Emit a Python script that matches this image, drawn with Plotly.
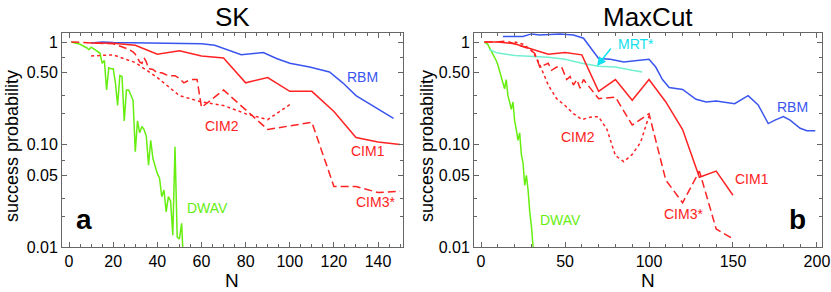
import plotly.graph_objects as go

# ---------------- SK panel (a) ----------------
sk_rbm_n = [10, 15, 20, 30, 40, 50, 60, 66, 73, 78, 88, 94, 100, 109, 118, 124, 130, 139, 147]
sk_rbm_p = [0.98, 1.0, 0.99, 0.98, 0.98, 0.97, 0.96, 0.93, 0.82, 0.75, 0.79, 0.69, 0.62, 0.57, 0.51, 0.40, 0.30, 0.23, 0.18]

sk_cim1_n = [10, 20, 30, 40, 50, 60, 70, 80, 90, 100, 110, 120, 130, 140, 150]
sk_cim1_p = [0.98, 0.97, 0.93, 0.76, 0.82, 0.73, 0.70, 0.40, 0.45, 0.33, 0.33, 0.21, 0.117, 0.106, 0.10]

sk_cim2_n = [10, 20, 30, 40, 50, 60, 70, 80, 90, 100]
sk_cim2_p = [0.73, 0.75, 0.63, 0.45, 0.30, 0.26, 0.24, 0.20, 0.175, 0.245]

sk_cim3_n = [1, 5, 10, 15, 20, 22, 25, 27, 29, 30, 31, 32, 33, 34, 35, 36, 38, 40, 42, 44, 46, 48,
             50, 52, 54, 56, 58, 60, 70, 90, 110, 120, 130, 140, 150]
sk_cim3_p = [1.0, 0.99, 0.98, 0.98, 0.96, 0.93, 0.88, 0.85, 0.80, 0.76, 0.70, 0.64, 0.62, 0.70, 0.64,
             0.55, 0.54, 0.50, 0.50, 0.48, 0.47, 0.47, 0.44, 0.40, 0.42, 0.43, 0.43, 0.23, 0.34,
             0.14, 0.165, 0.039, 0.039, 0.034, 0.035]

sk_dwav_n = [1, 3, 5, 7, 8, 9, 10, 11, 12, 13, 14, 15, 16, 17, 18, 19, 20, 21, 22, 23, 24, 25, 26,
             27, 28, 29, 30, 31, 32, 33, 34, 35, 36, 37, 38, 39, 40, 41, 42, 43, 44, 45, 46, 47,
             48, 49, 50, 51, 51.5]
sk_dwav_p = [1.0, 0.98, 0.95, 0.90, 0.88, 0.84, 0.89, 0.86, 0.83, 0.80, 0.78, 0.62, 0.66, 0.34,
             0.56, 0.55, 0.55, 0.40, 0.24, 0.47, 0.46, 0.17, 0.34, 0.34, 0.30, 0.27, 0.085, 0.17,
             0.13, 0.15, 0.14, 0.12, 0.063, 0.11, 0.073, 0.06, 0.052, 0.047, 0.031, 0.036,
             0.022, 0.031, 0.028, 0.013, 0.095, 0.0125, 0.012, 0.017, 0.01]

# ---------------- MaxCut panel (b) ----------------
mc_rbm_n = [13, 25, 30, 35, 47, 55, 61, 65, 70, 77, 85, 93, 100, 104, 108, 112, 120, 128, 134,
            140, 151, 159, 165, 171, 175, 180, 184, 190, 194, 199]
mc_rbm_p = [1.13, 1.13, 1.20, 1.17, 1.20, 1.17, 1.09, 0.90, 0.69, 0.68, 0.64, 0.66, 0.68, 0.57,
            0.43, 0.36, 0.345, 0.276, 0.26, 0.266, 0.25, 0.30, 0.243, 0.16, 0.173, 0.187,
            0.173, 0.144, 0.136, 0.136]

mc_mrt_n = [5, 10, 20, 30, 40, 50, 60, 70, 80, 90, 96]
mc_mrt_p = [0.84, 0.78, 0.74, 0.73, 0.71, 0.68, 0.62, 0.58, 0.57, 0.53, 0.51]

mc_cim1_n = [2, 10, 20, 30, 40, 50, 60, 70, 80, 90, 100, 110, 120, 130, 140, 150]
mc_cim1_p = [1.0, 1.0, 0.96, 0.85, 0.76, 0.79, 0.75, 0.33, 0.43, 0.27, 0.43, 0.26, 0.14, 0.048, 0.055, 0.032]

mc_cim2_n = [20, 25, 30, 33, 35, 37, 40, 45, 50, 55, 60, 65, 70, 75, 80, 85, 90, 95, 100]
mc_cim2_p = [1.0, 0.95, 0.83, 0.70, 0.60, 0.50, 0.38, 0.28, 0.24, 0.20, 0.175, 0.185, 0.187,
             0.14, 0.078, 0.068, 0.08, 0.105, 0.19]

mc_cim3_n = [2, 8, 15, 23, 28, 32, 35, 40, 42, 45, 48, 51, 53, 55, 57, 59, 61, 70, 80, 90, 100,
             110, 120, 130, 140, 150]
mc_cim3_p = [1.0, 1.0, 1.02, 0.93, 0.87, 0.775, 0.57, 0.62, 0.53, 0.57, 0.57, 0.43, 0.46, 0.38,
             0.43, 0.354, 0.43, 0.28, 0.29, 0.155, 0.20, 0.045, 0.027, 0.055, 0.015, 0.012]

mc_dwav_n = [2, 3, 4, 5, 6, 7, 8, 9, 10, 11, 12, 13, 14, 15, 16, 17, 18, 19, 20, 21, 22, 23, 24,
             25, 26, 27, 28, 29, 30, 31]
mc_dwav_p = [1.0, 0.98, 0.95, 0.88, 0.82, 0.76, 0.72, 0.66, 0.60, 0.53, 0.47, 0.40, 0.35, 0.43,
             0.30, 0.26, 0.22, 0.26, 0.17, 0.14, 0.11, 0.13, 0.08, 0.066, 0.040, 0.050, 0.036,
             0.022, 0.016, 0.010]

y_tickvals = [1, 0.5, 0.1, 0.05, 0.01]
y_ticktext = ["1", "0.50", "0.10", "0.05", "0.01"]
y_minor = [0.02, 0.03, 0.07, 0.2, 0.3, 0.7]
sk_xticks = [0, 20, 40, 60, 80, 100, 120, 140]
mc_xticks = [0, 50, 100, 150, 200]

RED = "#ff2222"
BLUE = "#3a55ee"
GREEN = "#66ee11"
AQUA = "#70f0d0"
CYAN = "#11e0ee"
FONT = "Liberation Sans, Arial, sans-serif"
DASH = "8px,4px"

fig = go.Figure()

def add(n, p, color, dash, xa, ya, width=1.5):
    fig.add_trace(go.Scatter(x=n, y=p, mode="lines", xaxis=xa, yaxis=ya,
                             line=dict(color=color, width=width, dash=dash),
                             showlegend=False, hoverinfo="skip"))

add(sk_dwav_n, sk_dwav_p, GREEN, "solid", "x", "y")
add(sk_rbm_n, sk_rbm_p, BLUE, "solid", "x", "y")
add(sk_cim2_n, sk_cim2_p, RED, "dot", "x", "y")
add(sk_cim3_n, sk_cim3_p, RED, DASH, "x", "y")
add(sk_cim1_n, sk_cim1_p, RED, "solid", "x", "y")

add(mc_dwav_n, mc_dwav_p, GREEN, "solid", "x2", "y2")
add(mc_mrt_n, mc_mrt_p, AQUA, "solid", "x2", "y2")
add(mc_rbm_n, mc_rbm_p, BLUE, "solid", "x2", "y2")
add(mc_cim2_n, mc_cim2_p, RED, "dot", "x2", "y2")
add(mc_cim3_n, mc_cim3_p, RED, DASH, "x2", "y2")
add(mc_cim1_n, mc_cim1_p, RED, "solid", "x2", "y2")

W, H = 831, 292
ydom = [1 - 247 / H, 1 - 33 / H]

axis_common = dict(showline=True, linecolor="#666666", linewidth=1, mirror="allticks",
                   ticks="inside", ticklen=5, tickcolor="#666666", showgrid=False,
                   zeroline=False, automargin=False,
                   tickfont=dict(family=FONT, size=16, color="black"))

fig.update_layout(
    width=W, height=H, margin=dict(l=0, r=0, t=0, b=0, autoexpand=False),
    paper_bgcolor="white", plot_bgcolor="white",
    xaxis=dict(domain=[62 / W, 403 / W], range=[-3.2, 151.3], tickvals=sk_xticks,
               minor=dict(ticks="inside", ticklen=3, dtick=5, tick0=0, tickcolor="#666666"),
               anchor="y", **axis_common),
    yaxis=dict(domain=ydom, type="log", range=[-2, 0.088], tickvals=y_tickvals,
               ticktext=y_ticktext, minor=dict(ticks="inside", ticklen=3, tickvals=y_minor,
                                               tickcolor="#666666"),
               anchor="x", **axis_common),
    xaxis2=dict(domain=[474 / W, 822 / W], range=[-4.2, 203], tickvals=mc_xticks,
                minor=dict(ticks="inside", ticklen=3, dtick=10, tick0=0, tickcolor="#666666"),
                anchor="y2", **axis_common),
    yaxis2=dict(domain=ydom, type="log", range=[-2, 0.088], tickvals=y_tickvals,
                ticktext=y_ticktext, minor=dict(ticks="inside", ticklen=3, tickvals=y_minor,
                                                tickcolor="#666666"),
                anchor="x2", **axis_common),
)

def txt(x, y, s, color="black", size=14, bold=False, angle=0):
    fig.add_annotation(x=x / W, y=1 - y / H, xref="paper", yref="paper", text=("<b>%s</b>" % s) if bold else s,
                       showarrow=False, textangle=angle, xanchor="center", yanchor="middle",
                       font=dict(family=FONT, size=size, color=color))

# titles
txt(232, 17, "SK", size=26)
txt(648, 17, "MaxCut", size=26)
# axis titles
txt(12, 146, "success probability", size=18, angle=-90)
txt(427, 146, "success probability", size=18, angle=-90)
txt(232, 280, "N", size=19)
txt(648, 280, "N", size=19)
# panel letters
txt(84, 219, "a", size=28, bold=True)
txt(797, 219, "b", size=28, bold=True)
# curve labels SK
txt(362, 77, "RBM", BLUE)
txt(222, 126, "CIM2", RED)
txt(368, 151, "CIM1", RED)
txt(375, 202, "CIM3*", RED)
txt(207, 208, "DWAV", GREEN)
# curve labels MaxCut
txt(636, 44, "MRT*", CYAN)
txt(792, 107, "RBM", BLUE)
txt(578, 137, "CIM2", RED)
txt(752, 179, "CIM1", RED)
txt(683, 214, "CIM3*", RED)
txt(560, 220, "DWAV", GREEN)

# arrow from MRT* label to curve
fig.add_annotation(x=597 / W, y=1 - 66 / H, ax=15, ay=-19, xref="paper", yref="paper",
                   axref="pixel", ayref="pixel", text="", showarrow=True, arrowhead=2,
                   arrowsize=1.2, arrowwidth=1.5, arrowcolor=CYAN)

fig.write_html("out.html", config={"displayModeBar": False, "staticPlot": True},
               post_script="document.body.style.margin='0';document.body.style.padding='0';")
